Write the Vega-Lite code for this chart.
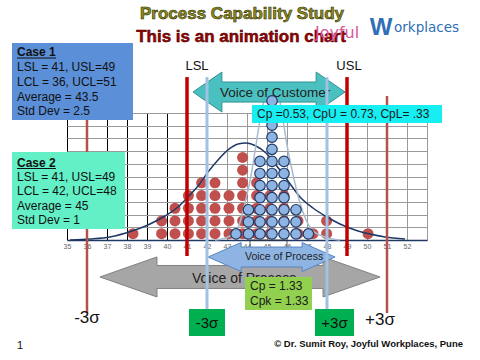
{
  "$schema": "https://vega.github.io/schema/vega-lite/v6.json",
  "width": 360,
  "height": 127,
  "autosize": "none",
  "padding": {"left": 67, "top": 113, "right": 53, "bottom": 120},
  "background": "white",
  "config": {"view": {"stroke": null}, "font": "Liberation Sans"},
  "datasets": {
    "red": [
      {"v": 38.3, "n": 1},
      {"v": 39.73, "n": 1}, {"v": 39.73, "n": 2},
      {"v": 40.4, "n": 1}, {"v": 40.4, "n": 2}, {"v": 40.4, "n": 3},
      {"v": 41.07, "n": 1}, {"v": 41.07, "n": 2}, {"v": 41.07, "n": 3}, {"v": 41.07, "n": 4},
      {"v": 41.73, "n": 1}, {"v": 41.73, "n": 2}, {"v": 41.73, "n": 3}, {"v": 41.73, "n": 4}, {"v": 41.73, "n": 5},
      {"v": 42.4, "n": 1}, {"v": 42.4, "n": 2}, {"v": 42.4, "n": 3}, {"v": 42.4, "n": 4}, {"v": 42.4, "n": 5},
      {"v": 43.1, "n": 1}, {"v": 43.1, "n": 2}, {"v": 43.1, "n": 3}, {"v": 43.1, "n": 4},
      {"v": 43.78, "n": 1}, {"v": 43.78, "n": 2}, {"v": 43.78, "n": 3}, {"v": 43.78, "n": 4}, {"v": 43.78, "n": 5}, {"v": 43.78, "n": 6}, {"v": 43.78, "n": 7},
      {"v": 44.48, "n": 1}, {"v": 44.48, "n": 2}, {"v": 44.48, "n": 3}, {"v": 44.48, "n": 4}, {"v": 44.48, "n": 5},
      {"v": 45.15, "n": 1}, {"v": 45.15, "n": 2}, {"v": 45.15, "n": 3}, {"v": 45.15, "n": 4},
      {"v": 45.85, "n": 1}, {"v": 45.85, "n": 2}, {"v": 45.85, "n": 3}, {"v": 45.85, "n": 4},
      {"v": 46.55, "n": 1}, {"v": 46.55, "n": 2},
      {"v": 47.3, "n": 1},
      {"v": 47.98, "n": 1}, {"v": 47.98, "n": 2},
      {"v": 50.05, "n": 1}
    ],
    "blue": [
      {"v": 43.45, "n": 1},
      {"v": 44.07, "n": 1}, {"v": 44.07, "n": 2}, {"v": 44.07, "n": 3},
      {"v": 44.65, "n": 1}, {"v": 44.65, "n": 2}, {"v": 44.65, "n": 3}, {"v": 44.65, "n": 4}, {"v": 44.65, "n": 5}, {"v": 44.65, "n": 6}, {"v": 44.65, "n": 7},
      {"v": 45.25, "n": 1}, {"v": 45.25, "n": 2}, {"v": 45.25, "n": 3}, {"v": 45.25, "n": 4}, {"v": 45.25, "n": 5}, {"v": 45.25, "n": 6}, {"v": 45.25, "n": 7}, {"v": 45.25, "n": 8}, {"v": 45.25, "n": 9}, {"v": 45.25, "n": 10}, {"v": 45.25, "n": 11}, {"v": 45.25, "n": 12},
      {"v": 45.85, "n": 1}, {"v": 45.85, "n": 2}, {"v": 45.85, "n": 3}, {"v": 45.85, "n": 4}, {"v": 45.85, "n": 5}, {"v": 45.85, "n": 6}, {"v": 45.85, "n": 7},
      {"v": 46.45, "n": 1}, {"v": 46.45, "n": 2}, {"v": 46.45, "n": 3},
      {"v": 47.07, "n": 1}
    ],
    "c1": [
      {"u": 35.15, "w": 0}, {"u": 36.15, "w": 0.08}, {"u": 37.15, "w": 0.24}, {"u": 38.25, "w": 0.71},
      {"u": 39.15, "w": 1.26}, {"u": 39.9, "w": 1.89}, {"u": 40.55, "w": 2.6}, {"u": 41.05, "w": 3.39},
      {"u": 41.55, "w": 4.25}, {"u": 42.05, "w": 5.35}, {"u": 42.55, "w": 6.3}, {"u": 43.05, "w": 7.09},
      {"u": 43.55, "w": 7.56}, {"u": 43.95, "w": 7.64}, {"u": 44.45, "w": 7.4}, {"u": 44.95, "w": 6.85},
      {"u": 45.45, "w": 5.91}, {"u": 46.05, "w": 4.65}, {"u": 46.65, "w": 3.39}, {"u": 47.3, "w": 2.52},
      {"u": 48.0, "w": 1.81}, {"u": 48.65, "w": 1.26}, {"u": 49.4, "w": 0.79}, {"u": 50.15, "w": 0.47},
      {"u": 50.9, "w": 0.24}, {"u": 51.9, "w": 0.08}
    ],
    "c2": [
      {"u": 42.4, "w": 0}, {"u": 43.05, "w": 0.24}, {"u": 43.5, "w": 0.79}, {"u": 43.9, "w": 2.91},
      {"u": 44.25, "w": 5.51}, {"u": 44.45, "w": 7.48}, {"u": 44.65, "w": 9.45}, {"u": 44.9, "w": 11.26},
      {"u": 45.25, "w": 12.2}, {"u": 45.6, "w": 11.26}, {"u": 45.8, "w": 9.45}, {"u": 46.0, "w": 7.48},
      {"u": 46.25, "w": 5.51}, {"u": 46.65, "w": 2.91}, {"u": 47.25, "w": 0.79}, {"u": 47.9, "w": 0.24},
      {"u": 48.65, "w": 0}
    ],
    "vlines": [
      {"g": "spec", "u": 41, "w1": 12.83, "w2": -1.26},
      {"g": "spec", "u": 49, "w1": 12.83, "w2": -1.26},
      {"g": "s1", "u": 36, "w1": 11.34, "w2": -5.75},
      {"g": "s1", "u": 51, "w1": 11.34, "w2": -5.75},
      {"g": "s2", "u": 42, "w1": 12.83, "w2": -5.43},
      {"g": "s2", "u": 48, "w1": 12.83, "w2": -5.43}
    ],
    "boxes": [
      {"g": "case1", "u1": 32.25, "u2": 38.3, "w1": 9.45, "w2": 15.51},
      {"g": "case2", "u1": 32.25, "u2": 37.9, "w1": 0.87, "w2": 6.93},
      {"g": "cyan", "u1": 44.25, "u2": 53.75, "w1": 9.21, "w2": 10.63},
      {"g": "cp", "u1": 43.9, "u2": 47.25, "w1": -5.51, "w2": -2.91},
      {"g": "sig", "u1": 41.1, "u2": 42.9, "w1": -7.56, "w2": -5.43},
      {"g": "sig", "u1": 47.4, "u2": 49.35, "w1": -7.56, "w2": -5.43},
      {"g": "lbl", "u1": 44.15, "u2": 46.0, "w1": -0.71, "w2": 0.0}
    ],
    "ul": [
      {"u1": 32.5, "u2": 34.45, "w": 14.33},
      {"u1": 32.5, "u2": 34.45, "w": 5.63}
    ],
    "arrows": [
      {"g": "teal", "u": 45.1, "w": 11.65},
      {"g": "blue", "u": 45.23, "w": -1.34},
      {"g": "gray", "u": 43.65, "w": -2.91}
    ],
    "texts": [
      {"g": "title", "u": 43.75, "w": 17.8, "t": "Process Capability Study"},
      {"g": "sub", "u": 43.7, "w": 15.98, "t": "This is an animation  chart"},
      {"g": "joy", "u": 47.4, "w": 16.3, "t": "Joyful"},
      {"g": "wl", "u": 50.7, "w": 16.69, "t": "W"},
      {"g": "ork", "u": 51.35, "w": 16.69, "t": "orkplaces"},
      {"g": "ch", "u": 32.5, "w": 14.8, "t": "Case 1"},
      {"g": "ch", "u": 32.5, "w": 6.09, "t": "Case 2"},
      {"g": "c", "u": 32.5, "w": 13.62, "t": "LSL = 41, USL=49"},
      {"g": "c", "u": 32.5, "w": 12.44, "t": "LCL  = 36, UCL=51"},
      {"g": "c", "u": 32.5, "w": 11.26, "t": "Average = 43.5"},
      {"g": "c", "u": 32.5, "w": 10.16, "t": "Std Dev = 2.5"},
      {"g": "c", "u": 32.5, "w": 4.98, "t": "LSL = 41, USL=49"},
      {"g": "c", "u": 32.5, "w": 3.86, "t": "LCL  = 42, UCL=48"},
      {"g": "c", "u": 32.5, "w": 2.68, "t": "Average = 45"},
      {"g": "c", "u": 32.5, "w": 1.57, "t": "Std Dev = 1"},
      {"g": "lim", "u": 41.5, "w": 13.7, "t": "LSL"},
      {"g": "lim", "u": 49.1, "w": 13.7, "t": "USL"},
      {"g": "voc", "u": 42.65, "w": 11.57, "t": "Voice of Customer"},
      {"g": "cy", "u": 44.5, "w": 9.92, "t": "Cp =0.53, CpU = 0.73, CpL= .33"},
      {"g": "vop", "u": 43.9, "w": -1.34, "t": "Voice of Process"},
      {"g": "vop2", "u": 41.25, "w": -3.07, "t": "Voice of Process"},
      {"g": "cp", "u": 44.15, "w": -3.62, "t": "Cp = 1.33"},
      {"g": "cp", "u": 44.15, "w": -4.8, "t": "Cpk = 1.33"},
      {"g": "sb", "u": 42.0, "w": -6.54, "t": "-3σ"},
      {"g": "sb", "u": 48.375, "w": -6.54, "t": "+3σ"},
      {"g": "sg", "u": 36.0, "w": -6.14, "t": "-3σ"},
      {"g": "sg", "u": 50.65, "w": -6.3, "t": "+3σ"},
      {"g": "f1", "u": 32.65, "w": -8.35, "t": "1"},
      {"g": "cr", "u": 54.8, "w": -8.19, "t": "© Dr. Sumit Roy, Joyful Workplaces, Pune"}
    ]
  },
  "resolve": {"scale": {"x": "independent", "y": "independent"}},
  "layer": [
    {
      "data": {"name": "boxes"},
      "transform": [{"filter": "datum.g == 'lbl'"}],
      "mark": {"type": "rect", "filled": false, "stroke": "#333333", "strokeWidth": 0.8},
      "encoding": {
        "x": {"field": "u1", "type": "quantitative", "scale": {"domain": [35, 53], "nice": false, "zero": false},
          "axis": {"values": [35,36,37,38,39,40,41,42,43,44,45,46,47,48,49,50,51,52,53], "grid": true,
            "gridColor": {"condition": {"test": "datum.value <= 40", "value": "#000000"}, "value": "#9a9a9a"},
            "gridWidth": 1, "ticks": false, "domain": true, "domainColor": "#1f3864", "domainWidth": 1.5,
            "labelFontSize": 7, "labelColor": "#666666", "labelDx": 8, "labelPadding": 2,
            "labelExpr": "datum.value == 53 ? '' : datum.label", "title": null, "labelFlush": false, "labelOverlap": false, "labelFont": "Liberation Sans"}},
        "x2": {"field": "u2"},
        "y": {"field": "w1", "type": "quantitative", "scale": {"domain": [0, 10], "nice": false, "zero": false},
          "axis": {"values": [0,1,2,3,4,5,6,7,8,9,10], "grid": true, "gridColor": "#9a9a9a", "gridWidth": 1,
            "ticks": false, "domain": false, "labels": false, "title": null}},
        "y2": {"field": "w2"}
      }
    },
    {
      "data": {"name": "red"},
      "mark": {"type": "point", "shape": "circle", "filled": true, "size": 121, "color": "#c0504d", "opacity": 1},
      "encoding": {
        "x": {"field": "v", "type": "quantitative", "scale": {"domain": [35, 53], "nice": false, "zero": false}, "axis": null},
        "y": {"field": "n", "type": "quantitative", "scale": {"domain": [0.5, 10.5], "nice": false, "zero": false}, "axis": null}
      }
    },
    {
      "encoding": {
        "x": {"field": "u", "type": "quantitative", "scale": {"domain": [35, 53], "nice": false, "zero": false}, "axis": null},
        "y": {"field": "w", "type": "quantitative", "scale": {"domain": [0, 10], "nice": false, "zero": false}, "axis": null}
      },
      "layer": [
        {"data": {"name": "c1"}, "mark": {"type": "line", "interpolate": "monotone", "color": "#1f3864", "strokeWidth": 1.5}},
        {"data": {"name": "c2"}, "mark": {"type": "line", "interpolate": "monotone", "color": "#a9bccf", "strokeWidth": 1.5}},
        {"data": {"name": "arrows"}, "transform": [{"filter": "datum.g == 'gray'"}],
          "mark": {"type": "point", "shape": "M-1,0L-0.593,-0.143L-0.593,-0.082L0.593,-0.082L0.593,-0.143L1,0L0.593,0.143L0.593,0.082L-0.593,0.082L-0.593,0.143Z",
            "size": 78400, "filled": true, "fill": "#a6a6a6", "stroke": "#808080", "strokeWidth": 1, "opacity": 1}},
        {"data": {"name": "texts"}, "transform": [{"filter": "datum.g == 'vop2'"}],
          "mark": {"type": "text", "align": "left", "baseline": "middle", "fontSize": 14, "color": "#222222"},
          "encoding": {"text": {"field": "t"}}},
        {"data": {"name": "arrows"}, "transform": [{"filter": "datum.g == 'blue'"}],
          "mark": {"type": "point", "shape": "M-1,0L-0.48,-0.228L-0.48,-0.157L0.48,-0.157L0.48,-0.228L1,0L0.48,0.228L0.48,0.157L-0.48,0.157L-0.48,0.228Z",
            "size": 16129, "filled": true, "fill": "#8eb4e3", "stroke": "#5a85c0", "strokeWidth": 1, "opacity": 1}},
        {"data": {"name": "texts"}, "transform": [{"filter": "datum.g == 'vop'"}],
          "mark": {"type": "text", "align": "left", "baseline": "middle", "fontSize": 10.5, "color": "#222222"},
          "encoding": {"text": {"field": "t"}}},
        {"data": {"name": "arrows"}, "transform": [{"filter": "datum.g == 'teal'"}],
          "mark": {"type": "point", "shape": "M-1,0L-0.62,-0.263L-0.62,-0.132L0.62,-0.132L0.62,-0.263L1,0L0.62,0.263L0.62,0.132L-0.62,0.132L-0.62,0.263Z",
            "size": 23104, "filled": true, "fill": "#4bc0c0", "stroke": "#31908f", "strokeWidth": 1, "opacity": 1}},
        {"data": {"name": "texts"}, "transform": [{"filter": "datum.g == 'voc'"}],
          "mark": {"type": "text", "align": "left", "baseline": "middle", "fontSize": 13.5, "color": "#222222"},
          "encoding": {"text": {"field": "t"}}},
        {"data": {"name": "vlines"}, "transform": [{"filter": "datum.g == 's1'"}],
          "mark": {"type": "rule", "color": "#b5504d", "strokeWidth": 2.5},
          "encoding": {"y": {"field": "w1", "type": "quantitative", "scale": {"domain": [0, 10], "nice": false, "zero": false}, "axis": null}, "y2": {"field": "w2"}}},
        {"data": {"name": "vlines"}, "transform": [{"filter": "datum.g == 'spec'"}],
          "mark": {"type": "rule", "color": "#c00000", "strokeWidth": 3.5},
          "encoding": {"y": {"field": "w1", "type": "quantitative", "scale": {"domain": [0, 10], "nice": false, "zero": false}, "axis": null}, "y2": {"field": "w2"}}},
        {"data": {"name": "vlines"}, "transform": [{"filter": "datum.g == 's2'"}],
          "mark": {"type": "rule", "color": "#a3c1e2", "strokeWidth": 3},
          "encoding": {"y": {"field": "w1", "type": "quantitative", "scale": {"domain": [0, 10], "nice": false, "zero": false}, "axis": null}, "y2": {"field": "w2"}}},
        {"data": {"name": "boxes"}, "transform": [{"filter": "datum.g == 'cp'"}],
          "mark": {"type": "rect", "color": "#92d050", "opacity": 1},
          "encoding": {"x": {"field": "u1", "type": "quantitative", "scale": {"domain": [35, 53], "nice": false, "zero": false}, "axis": null}, "x2": {"field": "u2"},
            "y": {"field": "w1", "type": "quantitative", "scale": {"domain": [0, 10], "nice": false, "zero": false}, "axis": null}, "y2": {"field": "w2"}}},
        {"data": {"name": "texts"}, "transform": [{"filter": "datum.g == 'cp'"}],
          "mark": {"type": "text", "align": "left", "baseline": "middle", "fontSize": 12, "color": "#1a1a1a"},
          "encoding": {"text": {"field": "t"}}},
        {"data": {"name": "boxes"}, "transform": [{"filter": "datum.g == 'sig'"}],
          "mark": {"type": "rect", "color": "#00b050", "opacity": 1},
          "encoding": {"x": {"field": "u1", "type": "quantitative", "scale": {"domain": [35, 53], "nice": false, "zero": false}, "axis": null}, "x2": {"field": "u2"},
            "y": {"field": "w1", "type": "quantitative", "scale": {"domain": [0, 10], "nice": false, "zero": false}, "axis": null}, "y2": {"field": "w2"}}},
        {"data": {"name": "texts"}, "transform": [{"filter": "datum.g == 'sb'"}],
          "mark": {"type": "text", "align": "center", "baseline": "middle", "fontSize": 15, "color": "#111111"},
          "encoding": {"text": {"field": "t"}}},
        {"data": {"name": "texts"}, "transform": [{"filter": "datum.g == 'sg'"}],
          "mark": {"type": "text", "align": "center", "baseline": "middle", "fontSize": 17, "color": "#111111"},
          "encoding": {"text": {"field": "t"}}},
        {"data": {"name": "texts"}, "transform": [{"filter": "datum.g == 'lim'"}],
          "mark": {"type": "text", "align": "center", "baseline": "middle", "fontSize": 13, "color": "#111111"},
          "encoding": {"text": {"field": "t"}}},
        {"data": {"name": "texts"}, "transform": [{"filter": "datum.g == 'title'"}],
          "mark": {"type": "text", "align": "center", "baseline": "middle", "fontSize": 17, "fontWeight": "bold", "fill": "#8e8e1c", "stroke": "#2d2d00", "strokeWidth": 0.6},
          "encoding": {"text": {"field": "t"}}},
        {"data": {"name": "texts"}, "transform": [{"filter": "datum.g == 'sub'"}],
          "mark": {"type": "text", "align": "center", "baseline": "middle", "fontSize": 17, "fontWeight": "bold", "fill": "#a00000", "stroke": "#3a0000", "strokeWidth": 0.5},
          "encoding": {"text": {"field": "t"}}},
        {"data": {"name": "texts"}, "transform": [{"filter": "datum.g == 'joy'"}],
          "mark": {"type": "text", "align": "left", "baseline": "middle", "fontSize": 16, "color": "#d9579b", "font": "DejaVu Sans"},
          "encoding": {"text": {"field": "t"}}},
        {"data": {"name": "texts"}, "transform": [{"filter": "datum.g == 'wl'"}],
          "mark": {"type": "text", "align": "center", "baseline": "middle", "fontSize": 24, "fontWeight": "bold", "color": "#2f6fb5"},
          "encoding": {"text": {"field": "t"}}},
        {"data": {"name": "texts"}, "transform": [{"filter": "datum.g == 'ork'"}],
          "mark": {"type": "text", "align": "left", "baseline": "middle", "fontSize": 13.5, "color": "#2f6fb5", "font": "DejaVu Sans"},
          "encoding": {"text": {"field": "t"}}},
        {"data": {"name": "texts"}, "transform": [{"filter": "datum.g == 'f1'"}],
          "mark": {"type": "text", "align": "center", "baseline": "middle", "fontSize": 11, "color": "#111111"},
          "encoding": {"text": {"field": "t"}}},
        {"data": {"name": "texts"}, "transform": [{"filter": "datum.g == 'cr'"}],
          "mark": {"type": "text", "align": "right", "baseline": "middle", "fontSize": 9.5, "fontWeight": "bold", "color": "#111111"},
          "encoding": {"text": {"field": "t"}}}
      ]
    },
    {
      "data": {"name": "blue"},
      "mark": {"type": "point", "shape": "circle", "filled": true, "size": 110, "fill": "#8eb4e3", "stroke": "#1f3864", "strokeWidth": 1.2, "opacity": 1},
      "encoding": {
        "x": {"field": "v", "type": "quantitative", "scale": {"domain": [35, 53], "nice": false, "zero": false}, "axis": null},
        "y": {"field": "n", "type": "quantitative", "scale": {"domain": [0.5, 11.0], "nice": false, "zero": false}, "axis": null}
      }
    },
    {
      "layer": [
        {"data": {"name": "boxes"}, "transform": [{"filter": "datum.g == 'cyan'"}],
          "mark": {"type": "rect", "color": "#17eef2", "opacity": 1},
          "encoding": {"x": {"field": "u1", "type": "quantitative", "scale": {"domain": [35, 53], "nice": false, "zero": false}, "axis": null}, "x2": {"field": "u2"},
            "y": {"field": "w1", "type": "quantitative", "scale": {"domain": [0, 10], "nice": false, "zero": false}, "axis": null}, "y2": {"field": "w2"}}},
        {"data": {"name": "boxes"}, "transform": [{"filter": "datum.g == 'case1'"}],
          "mark": {"type": "rect", "color": "#5b8fd7", "opacity": 1},
          "encoding": {"x": {"field": "u1", "type": "quantitative", "scale": {"domain": [35, 53], "nice": false, "zero": false}, "axis": null}, "x2": {"field": "u2"},
            "y": {"field": "w1", "type": "quantitative", "scale": {"domain": [0, 10], "nice": false, "zero": false}, "axis": null}, "y2": {"field": "w2"}}},
        {"data": {"name": "boxes"}, "transform": [{"filter": "datum.g == 'case2'"}],
          "mark": {"type": "rect", "color": "#63f0c6", "opacity": 1},
          "encoding": {"x": {"field": "u1", "type": "quantitative", "scale": {"domain": [35, 53], "nice": false, "zero": false}, "axis": null}, "x2": {"field": "u2"},
            "y": {"field": "w1", "type": "quantitative", "scale": {"domain": [0, 10], "nice": false, "zero": false}, "axis": null}, "y2": {"field": "w2"}}},
        {"data": {"name": "ul"},
          "mark": {"type": "rule", "color": "#111111", "strokeWidth": 1},
          "encoding": {"x": {"field": "u1", "type": "quantitative", "scale": {"domain": [35, 53], "nice": false, "zero": false}, "axis": null}, "x2": {"field": "u2"},
            "y": {"field": "w", "type": "quantitative", "scale": {"domain": [0, 10], "nice": false, "zero": false}, "axis": null}}},
        {"data": {"name": "texts"}, "transform": [{"filter": "datum.g == 'cy'"}],
          "mark": {"type": "text", "align": "left", "baseline": "middle", "fontSize": 12, "color": "#1a1a1a"},
          "encoding": {"x": {"field": "u", "type": "quantitative", "scale": {"domain": [35, 53], "nice": false, "zero": false}, "axis": null},
            "y": {"field": "w", "type": "quantitative", "scale": {"domain": [0, 10], "nice": false, "zero": false}, "axis": null}, "text": {"field": "t"}}},
        {"data": {"name": "texts"}, "transform": [{"filter": "datum.g == 'ch'"}],
          "mark": {"type": "text", "align": "left", "baseline": "middle", "fontSize": 12, "fontWeight": "bold", "color": "#111111"},
          "encoding": {"x": {"field": "u", "type": "quantitative", "scale": {"domain": [35, 53], "nice": false, "zero": false}, "axis": null},
            "y": {"field": "w", "type": "quantitative", "scale": {"domain": [0, 10], "nice": false, "zero": false}, "axis": null}, "text": {"field": "t"}}},
        {"data": {"name": "texts"}, "transform": [{"filter": "datum.g == 'c'"}],
          "mark": {"type": "text", "align": "left", "baseline": "middle", "fontSize": 12, "color": "#111111"},
          "encoding": {"x": {"field": "u", "type": "quantitative", "scale": {"domain": [35, 53], "nice": false, "zero": false}, "axis": null},
            "y": {"field": "w", "type": "quantitative", "scale": {"domain": [0, 10], "nice": false, "zero": false}, "axis": null}, "text": {"field": "t"}}}
      ]
    }
  ]
}
